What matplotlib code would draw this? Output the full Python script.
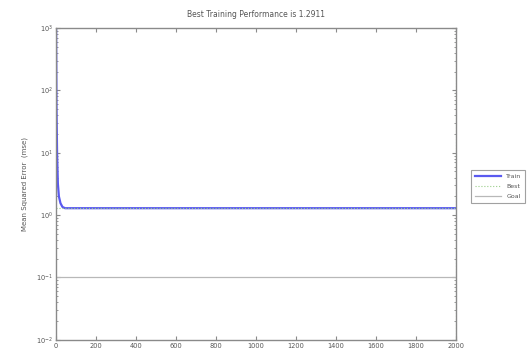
import matplotlib
matplotlib.use("Agg")
import matplotlib.pyplot as plt
import numpy as np

# Training record (epoch, mse) at the key points of the curve
train_epochs = [0, 2, 5, 9, 14, 22, 32, 45, 2000]
train_mse = [1500.0, 60.0, 10.0, 3.2, 2.0, 1.55, 1.35, 1.29, 1.29]
best_epoch = 2000
best_mse = 1.29
goal_mse = 0.1
xticks = list(range(0, 2001, 200))
title = "Best Training Performance is 1.2911"

fig = plt.figure(figsize=(5.29, 3.54), dpi=100)
ax = fig.add_axes([0.106, 0.04, 0.756, 0.881])

axis_col = "#8a8a8a"
text_col = "#555555"

ax.semilogy(train_epochs, train_mse, color="#5a5af0", lw=1.6, label="Train")
ax.semilogy([0, 2000], [best_mse, best_mse], color="#9acd8a", lw=0.8,
            ls=":", label="Best")
ax.semilogy([best_epoch, best_epoch], [1e-2, 1e3], color="#9acd8a", lw=0.8,
            ls=":")
ax.semilogy([0, 2000], [goal_mse, goal_mse], color="#b8b8b8", lw=0.9,
            ls="-", label="Goal")

ax.set_xlim(0, 2000)
ax.set_ylim(1e-2, 1e3)
ax.set_xticks(xticks)
ax.set_xticklabels([str(t) for t in xticks])

for s in ax.spines.values():
    s.set_color(axis_col)
    s.set_linewidth(1.0)
ax.tick_params(which="both", direction="in", top=True, right=True,
               colors=axis_col, labelcolor=text_col, labelsize=4.8, pad=2)
ax.tick_params(which="major", length=3)
ax.tick_params(which="minor", length=1.6)

ax.set_title(title, fontsize=5.5, color=text_col, pad=8)
ax.set_ylabel("Mean Squared Error  (mse)", fontsize=5, color=text_col,
              labelpad=6)

leg = fig.legend(loc="upper left", bbox_to_anchor=(0.885, 0.528),
                 fontsize=4.5, frameon=True, fancybox=False,
                 handlelength=4.2, borderpad=0.6, labelspacing=0.7)
leg.get_frame().set_edgecolor(axis_col)
leg.get_frame().set_linewidth(0.8)
for t in leg.get_texts():
    t.set_color(text_col)

fig.savefig("out.png", dpi=100)
